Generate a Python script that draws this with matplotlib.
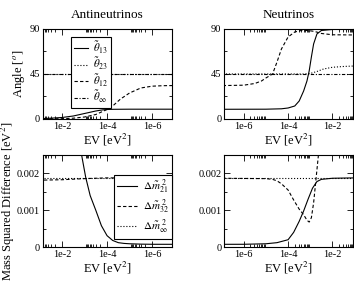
import numpy as np
import matplotlib
matplotlib.use("Agg")
import matplotlib.pyplot as plt
from matplotlib.ticker import FixedLocator

plt.rcParams['font.family'] = ['Liberation Serif', 'DejaVu Serif']
plt.rcParams['mathtext.fontset'] = 'stix'

# log10(EV) sample points
# --- antineutrinos, angles
a_th13_x = [-1.2, -1.5, -2.0, -2.5, -3.0, -3.5, -3.8, -4.0, -4.3, -5.0, -7.2]
a_th13_y = [0.5, 0.8, 1.5, 3.0, 5.5, 8.0, 9.1, 9.5, 9.7, 9.8, 9.8]
a_th12_x = [-1.2, -2.0, -2.5, -3.0, -3.5, -4.0, -4.3, -4.6, -5.0, -5.5, -6.0, -6.5, -7.2]
a_th12_y = [0.1, 0.3, 0.8, 2.0, 4.5, 9.5, 14.0, 20.0, 26.0, 31.0, 32.8, 33.3, 33.5]
a_th23_x = [-1.2, -7.2]
a_th23_y = [45.0, 45.0]
a_thoo_x = [-1.2, -7.2]
a_thoo_y = [45.0, 45.0]

# --- neutrinos, angles
n_th13_x = [-7.2, -5.0, -4.3, -4.0, -3.7, -3.5, -3.3, -3.15, -3.05, -2.95, -2.85, -2.7, -2.5, -2.0, -1.0]
n_th13_y = [9.7, 9.8, 10.2, 11.0, 13.0, 18.0, 28.0, 38.0, 48.0, 62.0, 75.0, 85.0, 88.5, 89.5, 89.7]
n_th12_x = [-7.2, -6.0, -5.5, -5.2, -5.0, -4.7, -4.5, -4.3, -4.0, -3.7, -3.4, -3.1, -2.8, -2.5, -2.0, -1.0]
n_th12_y = [33.3, 33.8, 35.5, 38.0, 41.0, 45.0, 57.0, 70.0, 82.0, 87.0, 88.5, 88.5, 87.5, 85.5, 84.2, 84.0]
n_th23_x = [-7.2, -3.3, -3.0, -2.7, -2.4, -2.0, -1.5, -1.0]
n_th23_y = [45.0, 45.0, 45.5, 47.5, 50.0, 51.7, 52.5, 53.0]
n_thoo_x = [-7.2, -1.0]
n_thoo_y = [45.0, 45.0]

# --- antineutrinos, mass squared differences
a_dm21_x = [-2.7, -2.9, -3.05, -3.25, -3.5, -3.75, -4.0, -4.25, -4.5, -4.75, -5.0, -5.5, -6.0, -7.2]
a_dm21_y = [0.0031, 0.0024, 0.0019, 0.0014, 0.0010, 0.00058, 0.00031, 0.00018, 0.00012,
            0.0001, 0.00009, 0.00008, 0.000076, 0.000075]
a_dm32_x = [-1.2, -2.0, -3.0, -4.0, -7.2]
a_dm32_y = [0.00182, 0.00183, 0.00186, 0.00188, 0.00188]
a_dmoo_x = [-1.2, -7.2]
a_dmoo_y = [0.00188, 0.00188]

# --- neutrinos, mass squared differences
n_dm21_x = [-7.2, -6.0, -5.0, -4.5, -4.0, -3.75, -3.5, -3.3, -3.1, -2.9, -2.7, -2.5, -2.0, -1.0]
n_dm21_y = [0.000075, 0.000076, 0.00009, 0.00012, 0.0002, 0.0004, 0.0007, 0.00098, 0.0013,
            0.0016, 0.00178, 0.00184, 0.00187, 0.00188]
n_dm32_x = [-7.2, -5.0, -4.7, -4.5, -4.3, -4.0, -3.75, -3.5, -3.3, -3.15, -3.05, -2.95, -2.85,
            -2.75, -2.65, -2.55]
n_dm32_y = [0.00187, 0.00186, 0.00184, 0.0018, 0.00172, 0.00155, 0.00128, 0.00103, 0.00088,
            0.00073, 0.00068, 0.0008, 0.0012, 0.0018, 0.0024, 0.003]
n_dmoo_x = [-7.2, -1.0]
n_dmoo_y = [0.00187, 0.00187]

ev_ticks = [1e-6, 1e-4, 1e-2]
ev_labels = ["1e-6", "1e-4", "1e-2"]
angle_ticks = [0, 45, 90]
dm_ticks = [0, 0.001, 0.002]
dm_labels = ["0", "0.001", "0.002"]


def ev(x):
    return np.power(10.0, np.array(x))


def style(ax, reverse, angle):
    ax.set_xscale('log')
    if reverse:
        ax.set_xlim(0.07, 1.3e-7)
    else:
        ax.set_xlim(1.3e-7, 0.085)
    ax.xaxis.set_major_locator(FixedLocator(ev_ticks))
    ax.set_xticklabels(ev_labels)
    minors = [m * t for t in ev_ticks for m in range(2, 10)]
    ax.xaxis.set_minor_locator(FixedLocator(minors))
    if angle:
        ax.set_ylim(0, 90)
        ax.set_yticks(angle_ticks)
        ax.set_yticklabels([str(t) for t in angle_ticks])
        ax.yaxis.set_minor_locator(FixedLocator([22.5, 67.5]))
    else:
        ax.set_ylim(0, 0.0025)
        ax.set_yticks(dm_ticks)
        ax.set_yticklabels(dm_labels)
        ax.yaxis.set_minor_locator(FixedLocator([0.0005, 0.0015, 0.0025]))
    ax.tick_params(which='both', direction='in', top=True, right=True, labelsize=7.5,
                   width=0.6, pad=2)
    ax.tick_params(which='major', length=4)
    ax.tick_params(which='minor', length=2.5)
    for s in ax.spines.values():
        s.set_linewidth(0.8)
    ax.set_xlabel("EV [eV$^2$]", fontsize=9, labelpad=1)


def box(leg):
    leg.get_frame().set_edgecolor('k')
    leg.get_frame().set_linewidth(0.8)


fig = plt.figure(figsize=(3.54, 2.84), dpi=100)
ax1 = fig.add_axes([0.1215, 0.581, 0.3644, 0.317])
ax2 = fig.add_axes([0.633, 0.581, 0.3644, 0.317])
ax3 = fig.add_axes([0.1215, 0.130, 0.3644, 0.324])
ax4 = fig.add_axes([0.633, 0.130, 0.3644, 0.324])

lw = 0.8
ax1.plot(ev(a_th13_x), a_th13_y, 'k-', lw=lw, label=r"$\tilde{\theta}_{13}$")
ax1.plot(ev(a_th23_x), a_th23_y, 'k:', lw=lw, label=r"$\tilde{\theta}_{23}$")
ax1.plot(ev(a_th12_x), a_th12_y, 'k--', lw=lw, dashes=(3, 2), label=r"$\tilde{\theta}_{12}$")
ax1.plot(ev(a_thoo_x), a_thoo_y, 'k-.', lw=lw, dashes=(3, 1.5, 1, 1.5), label=r"$\tilde{\theta}_{\infty}$")
style(ax1, True, True)
ax1.set_ylabel("Angle [$^o$]", fontsize=9, labelpad=2)
ax1.set_title("Antineutrinos", fontsize=9.5, pad=8)
box(ax1.legend(loc='upper left', bbox_to_anchor=(0.217, 0.915), borderaxespad=0,
               fontsize=8, handlelength=1.3, handletextpad=0.4, labelspacing=0.0,
               fancybox=False, framealpha=1, borderpad=0.25))

ax2.plot(ev(n_th13_x), n_th13_y, 'k-', lw=lw)
ax2.plot(ev(n_th23_x), n_th23_y, 'k:', lw=lw)
ax2.plot(ev(n_th12_x), n_th12_y, 'k--', lw=lw, dashes=(3, 2))
ax2.plot(ev(n_thoo_x), n_thoo_y, 'k-.', lw=lw, dashes=(3, 1.5, 1, 1.5))
style(ax2, False, True)
ax2.set_title("Neutrinos", fontsize=9.5, pad=8)

ax3.plot(ev(a_dm21_x), a_dm21_y, 'k-', lw=lw, label=r"$\Delta\tilde{m}_{21}^{\ 2}$")
ax3.plot(ev(a_dm32_x), a_dm32_y, 'k--', lw=lw, dashes=(3, 2), label=r"$\Delta\tilde{m}_{32}^{\ 2}$")
ax3.plot(ev(a_dmoo_x), a_dmoo_y, 'k:', lw=lw, label=r"$\Delta\tilde{m}_{\infty}^{\ 2}$")
style(ax3, True, False)
ax3.set_ylabel("Mass Squared Difference [eV$^2$]", fontsize=9, labelpad=0)
box(ax3.legend(loc='lower right', bbox_to_anchor=(1.0, 0.087), borderaxespad=0,
               fontsize=8, handlelength=1.8, handletextpad=0.5, labelspacing=0.15,
               fancybox=False, framealpha=1, borderpad=0.3))

ax4.plot(ev(n_dm21_x), n_dm21_y, 'k-', lw=lw)
ax4.plot(ev(n_dm32_x), n_dm32_y, 'k--', lw=lw, dashes=(3, 2))
ax4.plot(ev(n_dmoo_x), n_dmoo_y, 'k:', lw=lw)
style(ax4, False, False)

fig.savefig("out.png", dpi=100)
